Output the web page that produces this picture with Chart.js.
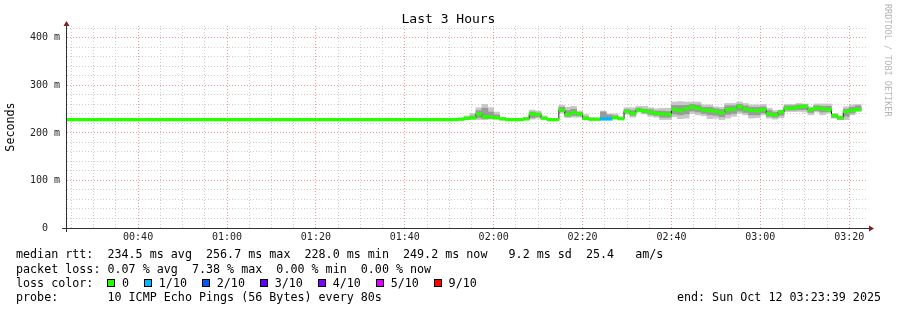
<!DOCTYPE html>
<html>
<head>
<meta charset="utf-8">
<script src="https://cdn.jsdelivr.net/npm/chart.js@4.4.1/dist/chart.umd.min.js"></script>
<style>
html,body{margin:0;padding:0;background:#fff;}
#wrap{position:relative;width:897px;height:310px;overflow:hidden;background:#fff;font-family:"DejaVu Sans Mono",monospace;color:#000;}
#c{position:absolute;left:0;top:0;}
.t{position:absolute;left:16px;white-space:pre;font-size:11.7px;line-height:14px;}
#title{position:absolute;left:0;width:897px;top:11px;text-align:center;font-size:13px;line-height:16px;white-space:pre;}
#credit{position:absolute;left:883px;top:4px;writing-mode:vertical-rl;font-size:8.5px;line-height:10px;color:#b4b4b4;white-space:pre;}
.sw{display:inline-block;width:8px;height:8px;border:1px solid #000;box-sizing:border-box;vertical-align:middle;margin-right:6.5px;}
.ent{margin-right:15.3px;}
</style>
</head>
<body>
<div id="wrap">
<canvas id="c" width="897" height="310"></canvas>
<div id="title">Last 3 Hours</div>
<div id="credit">RRDTOOL / TOBI OETIKER</div>
<div class="t" style="top:247px">median rtt:  234.5 ms avg  256.7 ms max  228.0 ms min  249.2 ms now   9.2 ms sd  25.4   am/s</div>
<div class="t" style="top:261.5px">packet loss: 0.07 % avg  7.38 % max  0.00 % min  0.00 % now</div>
<div class="t" id="losscolor" style="top:275.5px">loss color:  </div>
<div class="t" style="top:290px">probe:       10 ICMP Echo Pings (56 Bytes) every 80s</div>
<div class="t" style="top:290px;left:auto;right:16px">end: Sun Oct 12 03:23:39 2025</div>
</div>
<script>
// ---------------- data ----------------
// time axis in minutes after midnight; one RRD step = 80 s
const AXIS_START_MIN = 24.0;      // 00:24
const AXIS_END_MIN = 204.0;       // 03:24
const STEP_SECONDS = 80;

// median RTT per 80 s step (ms), 135 steps
const medianMs = [
  228,228,228,228,228,228,228,228,228,228,228,228,228,228,228,
  228,228,228,228,228,228,228,228,228,228,228,228,228,228,228,
  228,228,228,228,228,228,228,228,228,228,228,228,228,228,228,
  228,228,228,228,228,228,228,228,228,228,228,228,228,228,228,
  228,228,228,228,228,228,229,230.5,232,240,234,233,232,229.5,228,
  228,228,229.5,240,238.6,231,228,228,248,238.6,242.8,239.7,230.5,229,229,
  229.5,229.5,232,230,245.6,241,248,246,244,241,240,238.6,249.5,247,251,
  254.4,252,248,247,245.6,242.4,249.5,250,255.4,250,247.7,246.7,249,240,238,
  244,252,252,254.4,256,249,252,251,249,236.5,231.6,245,247.7,249.2,null
];

// lost pings (of 10) per step
const lossCount = [
  0,0,0,0,0,0,0,0,0,0,0,0,0,0,0,
  0,0,0,0,0,0,0,0,0,0,0,0,0,0,0,
  0,0,0,0,0,0,0,0,0,0,0,0,0,0,0,
  0,0,0,0,0,0,0,0,0,0,0,0,0,0,0,
  0,0,0,0,0,0,0,0,0,0,0,0,0,0,0,
  0,0,0,0,0,0,0,0,0,0,0,0,0,0,0,
  1,1,0,0,0,0,0,0,0,0,0,0,0,0,0,
  0,0,0,0,0,0,0,0,0,0,0,0,0,0,0,
  0,0,0,0,0,0,0,0,0,0,0,0,0,0,null
];

// smoke (spread of the 10 pings), from step 66 onward
const SMOKE_FIRST_STEP = 66;
const smokeMin = [
  228,228,228,228,228,229,229,228,null,null,
  null,228,229,231,229,null,null,242,232,233,
  233,228,228,228,229,231,231,229,239,233,
  244,240,235,233,228,228,234,230,231,241,
  238,236,230,231,228,231,235,241,238,231,
  232,238,231,229,232,245,245,245,244,238,
  244,238,242,231,228,228,238,245
];
const smokeMax = [
  230,236,241,253,260,253,244,233,null,null,
  null,233,248,246,236,null,null,258,254,256,
  246,239,232,231,246,240,240,234,253,253,
  256,256,253,251,252,252,265,266,265,265,
  265,259,259,255,254,262,262,265,262,259,
  259,260,252,247,248,260,260,262,261,255,
  261,261,261,241,236,255,259,260
];
const smokeInnerLo = [
  null,229,230,232,230,231,230,null,null,null,
  null,null,232,234,230,null,null,245,235,237,
  236,229,null,null,232,232,232,null,242,237,
  246,242,239,237,233,233,240,238,240,246,
  244,241,238,237,234,239,241,246,243,238,
  238,242,235,233,237,248,248,249,249,243,
  247,244,245,233,229,235,242,247
];
const smokeInnerHi = [
  null,233,236,247,252,244,238,null,null,null,
  null,null,244,242,233,null,null,254,247,250,
  243,234,null,null,244,238,236,null,249,247,
  252,250,249,246,246,245,258,258,258,260,
  259,254,254,251,249,257,257,260,257,254,
  254,255,247,243,247,257,257,259,259,252,
  257,256,256,239,234,250,254,257
];

const lossLegend = ['0','1/10','2/10','3/10','4/10','5/10','9/10'];
const lossLegendColors = ['#26ff00','#00b8ff','#0059ff','#5e00ff','#7e00ff','#dd00ff','#ff0000'];
const lossColorByCount = {0:'#26ff00',1:'#00b8ff',2:'#0059ff',3:'#5e00ff',4:'#7e00ff',5:'#dd00ff',9:'#ff0000'};

const yMajorTicks = [0,100,200,300,400];

// ---------------- styles ----------------
const BAND_HALF_MS = 2.8;
const GRID_MINOR = 'rgba(200,200,200,0.9)';
const GRID_MAJOR = 'rgba(240,140,140,0.9)';
const SMOKE_OUTER = '#c8c8c8';
const SMOKE_INNER = '#9a9a9a';
const MONO = "'DejaVu Sans Mono', monospace";

// legend swatches
const lc = document.getElementById('losscolor');
lossLegend.forEach((lab, i) => {
  const e = document.createElement('span');
  e.className = 'ent';
  const s = document.createElement('span');
  s.className = 'sw';
  s.style.background = lossLegendColors[i];
  e.appendChild(s);
  e.appendChild(document.createTextNode(lab));
  lc.appendChild(e);
});

const STEP_MIN = STEP_SECONDS / 60;
const stepCenter = k => AXIS_START_MIN + (k + 0.5) * STEP_MIN;

const bandData = [], lineData = [], innerData = [], outerData = [];
medianMs.forEach((m, k) => {
  if (m === null) { lineData.push({x: stepCenter(k), y: null}); return; }
  bandData.push({x: stepCenter(k), y: [m - BAND_HALF_MS, m + BAND_HALF_MS], loss: lossCount[k]});
  lineData.push({x: stepCenter(k), y: m});
});
smokeMin.forEach((lo, i) => {
  const k = SMOKE_FIRST_STEP + i;
  if (lo !== null) outerData.push({x: stepCenter(k), y: [lo, smokeMax[i]]});
  if (smokeInnerLo[i] !== null) innerData.push({x: stepCenter(k), y: [smokeInnerLo[i], smokeInnerHi[i]]});
});

const pad2 = n => String(n).padStart(2, '0');
const fmtTime = v => pad2(Math.floor(v / 60)) + ':' + pad2(Math.round(v % 60));

const axesPlugin = {
  id: 'rrdAxes',
  afterDraw(chart) {
    const {ctx, chartArea: a} = chart;
    ctx.save();
    ctx.strokeStyle = '#303030';
    ctx.lineWidth = 1;
    ctx.beginPath();
    ctx.moveTo(a.left - 0.5, a.bottom + 4);
    ctx.lineTo(a.left - 0.5, a.top - 4);
    ctx.moveTo(a.left - 5, a.bottom + 0.5);
    ctx.lineTo(a.right + 3, a.bottom + 0.5);
    ctx.stroke();
    ctx.fillStyle = '#7f1f1f';
    ctx.beginPath();
    ctx.moveTo(a.left - 3.5, a.top);
    ctx.lineTo(a.left + 2.5, a.top);
    ctx.lineTo(a.left - 0.5, a.top - 5);
    ctx.closePath();
    ctx.fill();
    ctx.beginPath();
    ctx.moveTo(a.right + 2, a.bottom - 2.5);
    ctx.lineTo(a.right + 2, a.bottom + 3.5);
    ctx.lineTo(a.right + 7, a.bottom + 0.5);
    ctx.closePath();
    ctx.fill();
    ctx.restore();
  }
};

const barCommon = {
  type: 'bar', grouped: false, barPercentage: 1, categoryPercentage: 1,
  borderWidth: 0, borderSkipped: false
};

new Chart(document.getElementById('c'), {
  type: 'bar',
  data: {
    datasets: [
      Object.assign({}, barCommon, {
        label: 'median', data: bandData, order: 0,
        backgroundColor: ctx => (ctx.raw && lossColorByCount[ctx.raw.loss]) || lossColorByCount[0]
      }),
      {
        type: 'line', label: 'median line', data: lineData, order: 1,
        borderColor: '#202020', borderWidth: 1, pointRadius: 0, stepped: 'middle',
        spanGaps: false, fill: false
      },
      Object.assign({}, barCommon, {label: 'smoke inner', data: innerData, order: 2, backgroundColor: SMOKE_INNER}),
      Object.assign({}, barCommon, {label: 'smoke outer', data: outerData, order: 3, backgroundColor: SMOKE_OUTER})
    ]
  },
  options: {
    responsive: false,
    devicePixelRatio: 1,
    animation: false,
    events: [],
    layout: {padding: {left: 0, top: 26, right: 30, bottom: 62}},
    plugins: {legend: {display: false}, tooltip: {enabled: false}, title: {display: false}},
    scales: {
      x: {
        type: 'linear', min: AXIS_START_MIN, max: AXIS_END_MIN, offset: false,
        afterFit: s => { s.height = 20; },
        afterBuildTicks: s => {
          const t = [];
          for (let v = Math.ceil(AXIS_START_MIN / 5) * 5; v < AXIS_END_MIN; v += 5) t.push({value: v});
          s.ticks = t;
        },
        grid: {
          offset: false, drawTicks: false, lineWidth: 1,
          color: c => (c.tick && c.tick.value % 20 === 0) ? GRID_MAJOR : GRID_MINOR
        },
        border: {display: false, dash: [1, 2]},
        ticks: {
          autoSkip: false, maxRotation: 0, minRotation: 0, padding: 3,
          color: '#222', font: {family: MONO, size: 10},
          callback: v => (v % 20 === 0) ? fmtTime(v) : ''
        }
      },
      y: {
        type: 'linear', min: 0, max: 425,
        afterFit: s => { s.width = 67; },
        afterBuildTicks: s => {
          const t = [];
          for (let v = 0; v <= 420; v += 20) t.push({value: v});
          s.ticks = t;
        },
        grid: {
          drawTicks: false, lineWidth: 1,
          color: c => (c.tick && yMajorTicks.includes(c.tick.value)) ? GRID_MAJOR : GRID_MINOR
        },
        border: {display: false, dash: [1, 2]},
        ticks: {
          autoSkip: false, padding: 7, color: '#222', font: {family: MONO, size: 10},
          callback: v => yMajorTicks.includes(v) ? (v === 0 ? '0  ' : v + ' m') : ''
        },
        title: {
          display: true, text: 'Seconds', color: '#000',
          font: {family: MONO, size: 11.7}, padding: {top: 4, bottom: 4}
        }
      }
    }
  },
  plugins: [axesPlugin]
});
</script>
</body>
</html>
